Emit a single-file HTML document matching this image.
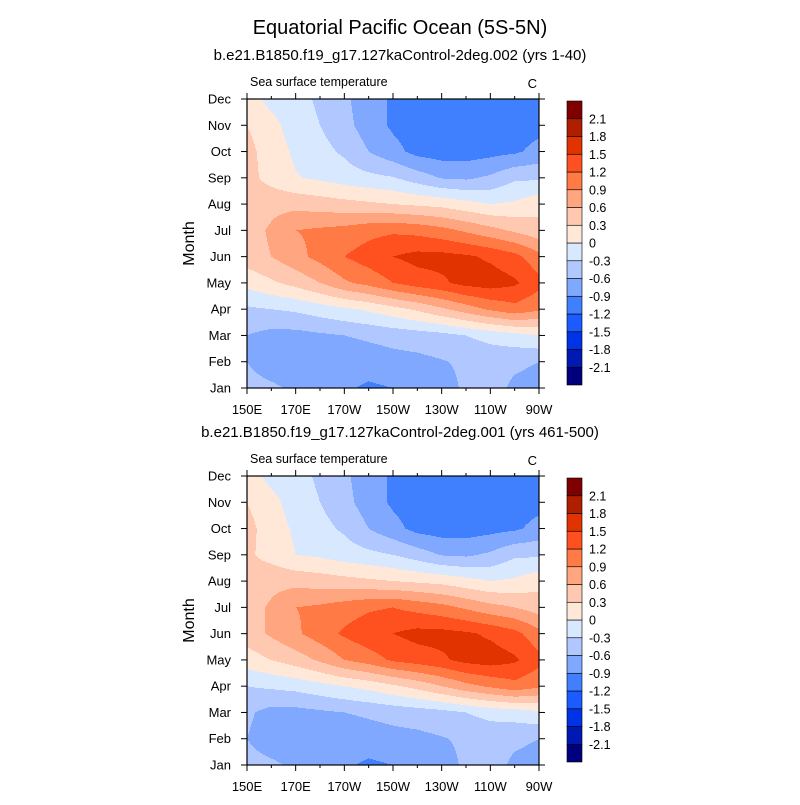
<!DOCTYPE html>
<html><head><meta charset="utf-8">
<style>
body{margin:0;background:#fff;}
svg text{font-family:"Liberation Sans",sans-serif;fill:#000;}
</style></head>
<body>
<svg id="chart" width="800" height="800" xmlns="http://www.w3.org/2000/svg">
<rect width="800" height="800" fill="#fff"/>
<text x="400" y="34" font-size="20" text-anchor="middle">Equatorial Pacific Ocean (5S-5N)</text>
</svg>
<script>
// Data: rows = months Jan..Dec, columns = longitudes 150E..90W every 10 degrees
const months = ["Jan","Feb","Mar","Apr","May","Jun","Jul","Aug","Sep","Oct","Nov","Dec"];
const lons = [150,160,170,180,190,200,210,220,230,240,250,260,270];
const xTickLabels = ["150E","170E","170W","150W","130W","110W","90W"];
const xTickLons = [150,170,190,210,230,250,270];
const levels = [-2.1,-1.8,-1.5,-1.2,-0.9,-0.6,-0.3,0,0.3,0.6,0.9,1.2,1.5,1.8,2.1];
const levelLabels = ["-2.1","-1.8","-1.5","-1.2","-0.9","-0.6","-0.3","0","0.3","0.6","0.9","1.2","1.5","1.8","2.1"];
const sstA = [
 [-0.5,-0.55,-0.65,-0.75,-0.85,-0.95,-0.9,-0.8,-0.72,-0.55,-0.5,-0.65,-0.7],
 [-0.6,-0.75,-0.8,-0.8,-0.8,-0.75,-0.7,-0.68,-0.62,-0.55,-0.5,-0.55,-0.6],
 [-0.6,-0.7,-0.7,-0.65,-0.6,-0.55,-0.5,-0.45,-0.4,-0.3,-0.2,-0.1,0.0],
 [-0.35,-0.3,-0.25,-0.15,-0.05,0.05,0.2,0.35,0.55,0.75,0.95,1.1,0.95],
 [0.1,0.25,0.4,0.6,0.85,1.0,1.2,1.35,1.45,1.6,1.65,1.55,1.3],
 [0.45,0.6,0.8,1.0,1.2,1.35,1.5,1.6,1.6,1.55,1.45,1.3,1.0],
 [0.45,0.65,0.9,0.95,1.0,1.1,1.15,1.1,1.0,0.85,0.7,0.55,0.4],
 [0.4,0.5,0.5,0.45,0.4,0.35,0.3,0.25,0.2,0.1,0.0,0.05,0.2],
 [0.4,0.2,0.02,-0.05,-0.15,-0.22,-0.28,-0.45,-0.62,-0.65,-0.55,-0.35,-0.35],
 [0.4,0.15,-0.05,-0.2,-0.35,-0.6,-0.8,-1.0,-1.05,-1.05,-1.0,-0.95,-0.8],
 [0.3,0.1,-0.15,-0.3,-0.5,-0.75,-0.95,-1.05,-1.1,-1.1,-1.1,-1.05,-1.0],
 [0.15,-0.1,-0.2,-0.35,-0.55,-0.75,-0.95,-1.05,-1.05,-1.05,-1.05,-1.0,-0.95]
];
const sstB = [
 [-0.5,-0.55,-0.65,-0.75,-0.85,-0.95,-0.9,-0.8,-0.72,-0.55,-0.5,-0.65,-0.7],
 [-0.6,-0.75,-0.8,-0.8,-0.8,-0.75,-0.7,-0.68,-0.62,-0.55,-0.5,-0.55,-0.6],
 [-0.55,-0.7,-0.7,-0.65,-0.6,-0.55,-0.5,-0.45,-0.4,-0.3,-0.2,-0.15,-0.05],
 [-0.3,-0.25,-0.2,-0.1,0.0,0.1,0.25,0.4,0.6,0.8,0.95,1.1,0.95],
 [0.15,0.3,0.45,0.65,0.9,1.05,1.25,1.35,1.45,1.6,1.65,1.55,1.3],
 [0.45,0.65,0.85,1.05,1.25,1.4,1.5,1.6,1.6,1.55,1.45,1.3,1.0],
 [0.45,0.65,0.9,0.95,1.05,1.15,1.2,1.1,1.0,0.85,0.7,0.6,0.45],
 [0.4,0.5,0.5,0.45,0.4,0.35,0.3,0.25,0.2,0.1,0.0,0.05,0.2],
 [0.35,0.2,0.0,-0.05,-0.15,-0.22,-0.3,-0.45,-0.62,-0.65,-0.55,-0.35,-0.35],
 [0.4,0.15,-0.05,-0.2,-0.35,-0.6,-0.8,-1.0,-1.05,-1.05,-1.0,-0.95,-0.8],
 [0.3,0.1,-0.15,-0.3,-0.5,-0.75,-0.95,-1.05,-1.1,-1.1,-1.1,-1.05,-1.0],
 [0.15,-0.1,-0.2,-0.35,-0.55,-0.75,-0.95,-1.05,-1.05,-1.05,-1.05,-1.0,-0.95]
];
const colors = ["#00007f","#0019b2","#0033e6","#1a5cff","#4080ff","#80a8ff","#b0c8ff","#d8e8ff","#ffe8d8","#ffc8b0","#ffa57f","#ff7a45","#ff5020","#e03300","#b01e00","#7f0000"];

const NS="http://www.w3.org/2000/svg";
const svg=document.getElementById('chart');
function mk(tag,attrs,parent){const e=document.createElementNS(NS,tag);for(const k in attrs)e.setAttribute(k,attrs[k]);(parent||svg).appendChild(e);return e;}
function colorIdx(v){let i=0;while(i<levels.length&&v>=levels[i])i++;return i;}

function panel(data,top,subtitle,pname){
  const L=247,R=539,T=top,B=top+289;
  const xS=lon=>L+(lon-150)/120*(R-L);
  const yS=m=>B-m/11*(B-T);
  const g=mk('g',{});
  
  
  const st=mk('text',{x:400,y:T-39,'font-size':15,'text-anchor':'middle'},g);
  st.textContent=subtitle;
  
  
  const lt=mk('text',{x:250,y:T-13,'font-size':12.5},g);lt.textContent='Sea surface temperature';
  
  
  const ut=mk('text',{x:R-2,y:T-11,'font-size':13,'text-anchor':'end'},g);ut.textContent='C';
  
  
  const field=mk('g',{'shape-rendering':'crispEdges'},g);
  
  
  const nc=lons.length-1, nr=months.length-1;
  for(let py=T;py<B;py++){
    const m=(B-(py+0.5))/(B-T)*nr;
    const r0=Math.min(nr-1,Math.max(0,Math.floor(m)));const fr=m-r0;
    let runStart=L,runC=-1;
    for(let px=L;px<=R;px++){
      let ci=-1;
      if(px<R){
        const c=((px+0.5)-L)/(R-L)*nc;
        const c0=Math.min(nc-1,Math.max(0,Math.floor(c)));const fc=c-c0;
        const v=(data[r0][c0]*(1-fc)+data[r0][c0+1]*fc)*(1-fr)+(data[r0+1][c0]*(1-fc)+data[r0+1][c0+1]*fc)*fr;
        ci=colorIdx(v);
      }
      if(ci!==runC){
        if(runC>=0){const rc=mk('rect',{x:runStart,y:py,width:px-runStart,height:1,fill:colors[runC]},field);
          
          }
        runStart=px;runC=ci;
      }
    }
  }
  const fr2=mk('rect',{x:L,y:T,width:R-L,height:B-T,fill:'none',stroke:'#000','stroke-width':1.2},g);
  
  
  months.forEach((mo,i)=>{
    const y=yS(i);
    mk('line',{x1:L-6,x2:L,y1:y,y2:y,stroke:'#000'},g);
    mk('line',{x1:R,x2:R+6,y1:y,y2:y,stroke:'#000'},g);
    const t=mk('text',{x:L-16,y:y+4.5,'font-size':13,'text-anchor':'end'},g);t.textContent=mo;
    
    
  });
  for(let lon=150;lon<=270;lon+=10){
    const x=xS(lon),maj=xTickLons.includes(lon),len=maj?6:3;
    mk('line',{x1:x,x2:x,y1:B,y2:B+len,stroke:'#000'},g);
    mk('line',{x1:x,x2:x,y1:T-len,y2:T,stroke:'#000'},g);
  }
  xTickLons.forEach((lon,i)=>{
    const t=mk('text',{x:xS(lon),y:B+26,'font-size':13,'text-anchor':'middle'},g);t.textContent=xTickLabels[i];
    
    
  });
  const yt=mk('text',{x:0,y:0,'font-size':16,'text-anchor':'middle',transform:`translate(194,${(T+B)/2}) rotate(-90)`},g);yt.textContent='Month';
  
  
  const cb=mk('g',{},g);
  
  
  const cT=T+2,cB=B-3,h=(cB-cT)/colors.length;
  colors.forEach((c,i)=>{
    const rr=mk('rect',{x:567,y:cB-(i+1)*h,width:15,height:h,fill:c,stroke:'#000','stroke-width':0.6},cb);
    
    
  });
  levelLabels.forEach((lb,i)=>{
    const t=mk('text',{x:589,y:cB-(i+1)*h+4.5,'font-size':12.5},cb);t.textContent=lb;
    
    
  });
}
panel(sstA,99,'b.e21.B1850.f19_g17.127kaControl-2deg.002 (yrs 1-40)','panel-top');
panel(sstB,476,'b.e21.B1850.f19_g17.127kaControl-2deg.001 (yrs 461-500)','panel-bottom');
</script>
</body></html>
